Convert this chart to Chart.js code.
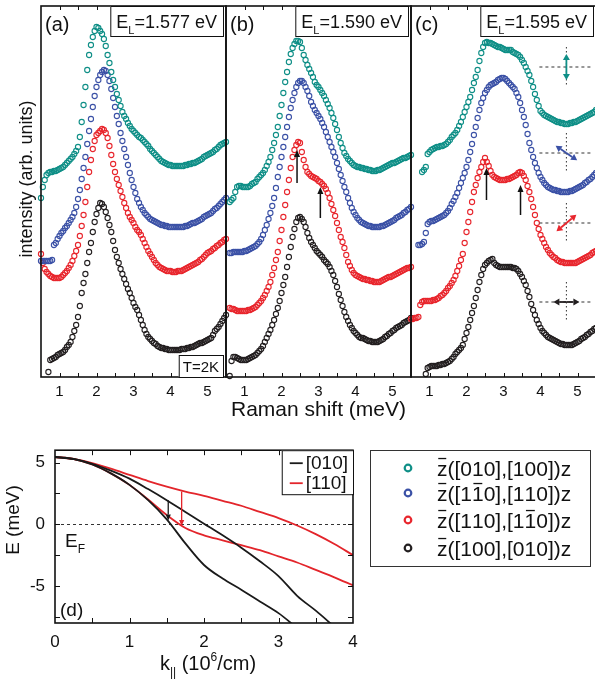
<!DOCTYPE html>
<html>
<head>
<meta charset="utf-8">
<title>Raman spectra and band dispersion</title>
<script src="https://cdn.jsdelivr.net/npm/chart.js@4.4.1/dist/chart.umd.min.js"></script>
<style>
  html, body { margin: 0; padding: 0; background: #fff; }
  body { position: relative; width: 595px; height: 681px; overflow: hidden; }
  canvas { position: absolute; }
</style>
</head>
<body>
<canvas id="panelA" width="230" height="425" style="left:0;top:0"></canvas>
<canvas id="panelB" width="210" height="425" style="left:206px;top:0"></canvas>
<canvas id="panelC" width="210" height="425" style="left:391px;top:0"></canvas>
<canvas id="panelD" width="595" height="251" style="left:0;top:430px"></canvas>
<script>
// Raman shift (meV), shared by all spectra
const ramanShift = [
    0.50, 0.55, 0.60, 0.65, 0.70, 0.75, 0.80, 0.85, 0.90, 0.95,
    1.00, 1.05, 1.10, 1.15, 1.20, 1.25, 1.30, 1.35, 1.40, 1.45,
    1.50, 1.55, 1.60, 1.65, 1.70, 1.75, 1.80, 1.85, 1.90, 1.95,
    2.00, 2.05, 2.10, 2.15, 2.20, 2.25, 2.30, 2.35, 2.40, 2.45,
    2.50, 2.55, 2.60, 2.65, 2.70, 2.75, 2.80, 2.85, 2.90, 2.95,
    3.00, 3.05, 3.10, 3.15, 3.20, 3.25, 3.30, 3.35, 3.40, 3.45,
    3.50, 3.55, 3.60, 3.65, 3.70, 3.75, 3.80, 3.85, 3.90, 3.95,
    4.00, 4.05, 4.10, 4.15, 4.20, 4.25, 4.30, 4.35, 4.40, 4.45,
    4.50, 4.55, 4.60, 4.65, 4.70, 4.75, 4.80, 4.85, 4.90, 4.95,
    5.00, 5.05, 5.10, 5.15, 5.20, 5.25, 5.30, 5.35, 5.40, 5.45,
    5.50];

// intensity (arb. units, spectra already offset) - panel (a) E_L = 1.577 eV
const tealA = [
    169, 180, 187, 192, 194, 195, 195, 196, 196, 197,
    198, 199, 200, 202, 204, 206, 208, 210, 213, 216,
    220, 230, 245, 262, 280, 297, 312, 322, 330, 336,
    340, 339, 336, 333, 328, 321, 312, 304, 295, 287,
    280, 273, 267, 261, 255, 251, 248, 244, 241, 238,
    236, 234, 232, 230, 229, 227, 225, 223, 221, 218,
    216, 214, 212, 210, 208, 206, 205, 204, 203, 202,
    202, 201, 201, 201, 201, 201, 201, 201, 202, 202,
    203, 203, 204, 204, 205, 206, 207, 208, 210, 211,
    212, 213, 214, 215, 217, 218, 220, 222, 223, 224,
    225];
const blueA = [
    106, 106, 106, 106, 106, 106, 107, 122, 124, 128,
    131, 134, 136, 139, 141, 144, 147, 150, 154, 160,
    168, 177, 188, 199, 210, 223, 236, 248, 260, 271,
    280, 287, 292, 295, 297, 296, 292, 286, 278, 269,
    260, 251, 243, 234, 226, 218, 210, 202, 194, 187,
    180, 174, 168, 164, 160, 157, 154, 152, 150, 148,
    147, 146, 145, 144, 143, 142, 142, 141, 141, 140,
    140, 140, 140, 140, 140, 140, 140, 140, 141, 141,
    142, 143, 144, 144, 145, 146, 147, 148, 150, 151,
    152, 153, 154, 156, 158, 159, 161, 163, 165, 167,
    169];
const redA = [
    113, 104, 98, 95, 93, 91, 90, 89, 89, 89,
    89, 90, 92, 94, 96, 99, 102, 106, 111, 116,
    122, 131, 141, 152, 165, 180, 195, 207, 218, 226,
    232, 234, 236, 238, 237, 234, 229, 221, 212, 203,
    195, 188, 182, 176, 170, 164, 159, 154, 150, 147,
    144, 140, 137, 135, 132, 128, 124, 120, 116, 113,
    110, 107, 104, 102, 100, 99, 98, 97, 96, 96,
    96, 95, 95, 95, 96, 96, 96, 97, 98, 99,
    100, 101, 102, 103, 104, 105, 107, 108, 110, 112,
    114, 115, 116, 118, 119, 121, 122, 124, 125, 127,
    128];
const blackA = [
    null, null, null, null, -5, 7, 8, 9, 10, 12,
    13, 14, 15, 17, 20, 22, 25, 30, 36, 42,
    50, 61, 74, 84, 93, 104, 115, 124, 135, 145,
    153, 159, 164, 163, 160, 155, 149, 142, 135, 126,
    117, 110, 104, 98, 93, 88, 83, 78, 74, 69,
    64, 60, 57, 52, 47, 42, 37, 33, 30, 28,
    26, 24, 23, 21, 20, 19, 19, 18, 18, 17,
    17, 17, 17, 17, 17, 17, 18, 18, 18, 19,
    19, 20, 20, 21, 22, 23, 24, 24, 25, 26,
    27, 28, 29, 32, 36, 38, 40, 43, 46, 49,
    52];

// panel (b) E_L = 1.590 eV
const tealB = [
    null, null, 165, 167, 169, 175, 180, 181, 181, 180,
    180, 180, 180, 181, 183, 184, 185, 188, 190, 192,
    194, 197, 201, 205, 210, 217, 224, 232, 240, 251,
    262, 274, 285, 295, 305, 313, 319, 323, 326, 326,
    325, 319, 312, 307, 302, 298, 294, 290, 285, 282,
    280, 277, 274, 271, 267, 263, 259, 254, 249, 243,
    237, 230, 224, 219, 214, 211, 208, 206, 204, 202,
    201, 200, 200, 199, 199, 198, 198, 197, 197, 196,
    196, 196, 197, 197, 198, 199, 200, 201, 202, 203,
    204, 204, 205, 206, 207, 208, 209, 209, 210, 211,
    212];
const blueB = [
    null, null, 114, 114, 115, 115, 115, 115, 115, 115,
    116, 116, 117, 118, 119, 120, 121, 123, 125, 128,
    132, 137, 142, 148, 154, 161, 169, 179, 190, 200,
    210, 220, 230, 240, 250, 259, 267, 274, 280, 284,
    286, 286, 284, 280, 276, 271, 265, 261, 257, 254,
    251, 248, 244, 240, 235, 230, 225, 220, 215, 210,
    204, 198, 192, 186, 180, 175, 169, 164, 159, 155,
    152, 149, 147, 145, 144, 143, 142, 141, 141, 140,
    140, 140, 140, 140, 141, 141, 142, 143, 144, 145,
    146, 147, 149, 150, 151, 152, 154, 155, 157, 158,
    160];
const redB = [
    null, null, 59, 58, 58, 57, 56, 56, 56, 56,
    56, 56, 57, 57, 58, 59, 60, 62, 64, 66,
    69, 72, 76, 80, 85, 92, 99, 107, 115, 126,
    137, 150, 162, 175, 187, 199, 210, 217, 222, 225,
    224, 215, 207, 200, 195, 193, 191, 190, 189, 188,
    186, 185, 183, 181, 178, 174, 169, 163, 157, 151,
    144, 137, 130, 125, 119, 112, 105, 101, 97, 94,
    92, 91, 90, 89, 88, 88, 87, 87, 86, 86,
    85, 85, 85, 85, 86, 87, 88, 89, 90, 90,
    91, 92, 93, 94, 95, 96, 97, 98, 99, 99,
    100];
const blackB = [
    null, null, -9, 6, 10, 10, 9, 8, 7, 7,
    7, 7, 8, 9, 10, 11, 12, 14, 16, 18,
    21, 25, 29, 33, 37, 42, 47, 53, 59, 66,
    74, 82, 90, 100, 110, 120, 130, 138, 145, 149,
    150, 148, 145, 140, 134, 129, 125, 122, 119, 116,
    114, 112, 110, 107, 105, 103, 100, 96, 92, 86,
    80, 73, 67, 61, 55, 50, 46, 42, 39, 36,
    34, 32, 30, 29, 29, 28, 27, 26, 26, 25,
    25, 25, 25, 26, 27, 28, 30, 31, 33, 34,
    36, 37, 39, 40, 41, 42, 44, 45, 46, 47,
    49];

// panel (c) E_L = 1.595 eV
const tealC = [
    null, null, null, null, null, null, 195, 197, 200, 213,
    215, 217, 218, 219, 220, 220, 221, 221, 222, 223,
    225, 227, 230, 232, 234, 237, 241, 245, 250, 255,
    260, 265, 270, 277, 284, 290, 297, 306, 314, 320,
    324, 325, 324, 324, 323, 322, 321, 320, 320, 319,
    318, 317, 317, 317, 317, 315, 314, 313, 312, 310,
    307, 304, 300, 296, 292, 286, 280, 273, 267, 261,
    256, 254, 252, 251, 250, 249, 248, 247, 246, 245,
    245, 244, 244, 243, 243, 243, 244, 244, 245, 245,
    246, 247, 248, 249, 250, 251, 252, 253, 254, 255,
    257];
const blueC = [
    null, null, null, null, 122, 122, 123, 125, 134, 143,
    145, 146, 146, 147, 148, 149, 150, 151, 152, 154,
    156, 159, 163, 166, 170, 174, 179, 184, 189, 194,
    200, 207, 215, 223, 232, 240, 249, 257, 264, 269,
    274, 277, 280, 282, 283, 284, 285, 287, 288, 289,
    289, 288, 286, 284, 282, 280, 278, 274, 270, 264,
    257, 250, 242, 233, 224, 217, 210, 204, 199, 194,
    190, 187, 184, 182, 180, 179, 178, 177, 177, 176,
    176, 175, 175, 175, 175, 175, 176, 176, 177, 178,
    179, 180, 181, 182, 184, 185, 187, 188, 190, 192,
    194];
const redC = [
    48, 48, 49, 49, 50, 62, 65, 66, 66, 66,
    66, 66, 67, 67, 68, 69, 71, 72, 74, 76,
    79, 81, 84, 87, 91, 96, 101, 107, 113, 124,
    135, 145, 155, 165, 175, 182, 189, 195, 200, 205,
    209, 205, 201, 196, 192, 190, 189, 188, 187, 187,
    187, 187, 188, 188, 189, 190, 191, 192, 194, 195,
    194, 191, 187, 181, 175, 168, 160, 152, 144, 138,
    132, 128, 124, 120, 117, 114, 112, 110, 109, 107,
    106, 105, 105, 104, 104, 104, 104, 104, 104, 104,
    105, 106, 107, 108, 109, 110, 111, 112, 114, 115,
    116];
const blackC = [
    null, null, null, null, null, null, null, null, -7, -1,
    0, 1, 1, 1, 1, 2, 2, 3, 3, 4,
    5, 6, 8, 10, 13, 15, 17, 19, 22, 28,
    34, 40, 47, 54, 61, 69, 77, 85, 92, 98,
    102, 104, 106, 107, 108, 104, 102, 101, 100, 100,
    100, 100, 100, 100, 100, 99, 99, 98, 96, 93,
    90, 86, 82, 76, 70, 63, 57, 52, 47, 43,
    39, 36, 34, 32, 30, 29, 28, 27, 26, 25,
    24, 23, 23, 22, 22, 22, 22, 22, 23, 24,
    25, 26, 28, 29, 30, 32, 33, 35, 36, 38,
    39];

const ramanTicks = [1, 2, 3, 4, 5];
const ramanMarks = [1, 1.5, 2, 2.5, 3, 3.5, 4, 4.5, 5];
const panelNames = ['(a)', '(b)', '(c)'];
const laserEnergies = ['1.577', '1.590', '1.595'];
const polarLabels = ['z\u0304([010],[100])z', 'z\u0304([11\u03040],[110])z',
    'z\u0304([110],[11\u03040])z', 'z\u0304([100],[010])z'];
const seriesColors = ['#0f8f87', '#3b51a6', '#e8262d', '#231f20'];

// peak markers (meV, intensity) for the red spectra in (b) and (c)
const arrowShiftB = [2.42, 3.05];
const arrowFromB = [184, 149];
const arrowToB = [217, 180];
const arrowShiftC = [2.54, 3.46];
const arrowFromC = [167, 152];
const arrowToC = [199, 182];

// polarisation sketches in (c)
const polarShift = 4.7;
const polarLevel = [300, 214, 144, 65];
const polarAngle = [90, -34, 40, 0];

// (d) band dispersion
const kPar = [0, 0.25, 0.5, 0.75, 1, 1.25, 1.5, 1.75, 2, 2.25, 2.5, 2.75, 3, 3.25, 3.5, 3.75, 4];
const band010Lower = [5.45, 5.27, 4.84, 4.12, 3.19, 1.95, 0.4, -1.55, -3.3, -4.4, -5.3, -6.25, -7.2, -8.4];
const band010Upper = [5.45, 5.3, 4.9, 4.35, 3.7, 2.85, 1.95, 1.0, 0.05, -0.9, -1.9, -3.0, -4.2, -5.8, -7.0, -8.3];
const band110Lower = [5.45, 5.27, 4.84, 4.12, 3.19, 2.0, 0.75, -0.3, -0.9, -1.3, -1.7, -2.1, -2.6, -3.1, -3.7, -4.3, -4.95];
const band110Upper = [5.45, 5.3, 4.95, 4.5, 4.0, 3.5, 3.05, 2.65, 2.3, 1.9, 1.5, 1.0, 0.5, -0.1, -0.8, -1.6, -2.5];
const bandLabels = ['[010]', '[110]'];
const bandColors = ['#1a1a1a', '#e3252b'];
const kTicks = [0, 1, 2, 3, 4];
const kMarks = [0.5, 1, 1.5, 2, 2.5, 3, 3.5];
const eTicks = [-5, 0, 5];
const eMarks = [-7.5, -5, -2.5, 0, 2.5, 5];
const transitionK = [1.52, 1.7];
const transitionFrom = [1.95, 2.65];
const transitionTo = [0.3, -0.15];

const FONT = '"Liberation Sans", Arial, Helvetica, sans-serif';
Chart.defaults.font.family = FONT;
Chart.defaults.color = '#111';

function font(size) { return size + 'px ' + FONT; }

function drawArrow(ctx, x1, y1, x2, y2, color, head, half, width) {
    const ang = Math.atan2(y2 - y1, x2 - x1);
    const bx = x2 - head * Math.cos(ang), by = y2 - head * Math.sin(ang);
    ctx.strokeStyle = color;
    ctx.fillStyle = color;
    ctx.lineWidth = width;
    ctx.beginPath();
    ctx.moveTo(x1, y1);
    ctx.lineTo(bx, by);
    ctx.stroke();
    ctx.beginPath();
    ctx.moveTo(x2, y2);
    ctx.lineTo(bx + half * Math.sin(ang), by - half * Math.cos(ang));
    ctx.lineTo(bx - half * Math.sin(ang), by + half * Math.cos(ang));
    ctx.closePath();
    ctx.fill();
}

// text with a bar over every character followed by U+0304
function barText(ctx, s, x, base, size) {
    let cx = x;
    for (let i = 0; i < s.length; i++) {
        const ch = s[i];
        if (ch === '\u0304') continue;
        const w = ctx.measureText(ch).width;
        ctx.fillText(ch, cx, base);
        if (s[i + 1] === '\u0304') {
            ctx.fillRect(cx + w * 0.12, base - size * 0.72 - 2.5, w * 0.76, 1.3);
        }
        cx += w;
    }
}

// box frame plus inward ticks on all four sides
function framePlugin(xMarks, yMarks, len) {
    return {
        id: 'frame',
        afterDraw(chart) {
            const {ctx, chartArea: a, scales} = chart;
            ctx.save();
            ctx.strokeStyle = '#111';
            ctx.lineWidth = 1;
            ctx.beginPath();
            xMarks.forEach(v => {
                const px = Math.round(scales.x.getPixelForValue(v)) + 0.5;
                ctx.moveTo(px, a.bottom); ctx.lineTo(px, a.bottom - len);
                ctx.moveTo(px, a.top); ctx.lineTo(px, a.top + len);
            });
            yMarks.forEach(v => {
                const py = Math.round(scales.y.getPixelForValue(v)) + 0.5;
                ctx.moveTo(a.left, py); ctx.lineTo(a.left + len, py);
                ctx.moveTo(a.right, py); ctx.lineTo(a.right - len, py);
            });
            ctx.stroke();
            ctx.lineWidth = 1.6;
            ctx.strokeRect(a.left, a.top, a.right - a.left, a.bottom - a.top);
            ctx.restore();
        }
    };
}

function laserBox(ctx, a, energy) {
    ctx.font = font(18);
    const wE = ctx.measureText('E').width;
    const rest = '=' + energy + ' eV';
    const wR = ctx.measureText(rest).width;
    ctx.font = font(11);
    const wL = ctx.measureText('L').width;
    const w = wE + wL + wR + 12, h = 30;
    const x0 = a.right - 3 - w, y0 = a.top;
    ctx.fillStyle = '#fff';
    ctx.fillRect(x0, y0, w, h);
    ctx.strokeStyle = '#111';
    ctx.lineWidth = 1;
    ctx.strokeRect(x0 + 0.5, y0 + 0.5, w, h);
    ctx.fillStyle = '#111';
    ctx.textAlign = 'left';
    ctx.textBaseline = 'alphabetic';
    ctx.font = font(18);
    ctx.fillText('E', x0 + 6, y0 + 22);
    ctx.font = font(11);
    ctx.fillText('L', x0 + 6 + wE, y0 + 28);
    ctx.font = font(18);
    ctx.fillText(rest, x0 + 6 + wE + wL, y0 + 22);
}

function decorPlugin(panel) {
    return {
        id: 'decor',
        afterDraw(chart) {
            const {ctx, chartArea: a, scales: {x, y}} = chart;
            ctx.save();
            ctx.fillStyle = '#111';
            ctx.font = font(20);
            ctx.textAlign = 'left';
            ctx.textBaseline = 'alphabetic';
            ctx.fillText(panelNames[panel], a.left + 4, a.top + 25);
            laserBox(ctx, a, laserEnergies[panel]);
            if (panel === 0) {
                // T=2K box
                ctx.font = font(15);
                const w = ctx.measureText('T=2K').width + 8;
                const x0 = a.right - 3 - w, y0 = a.bottom - 22;
                ctx.fillStyle = '#fff';
                ctx.fillRect(x0, y0, w, 22);
                ctx.strokeStyle = '#111';
                ctx.lineWidth = 1;
                ctx.strokeRect(x0 + 0.5, y0 + 0.5, w, 22);
                ctx.fillStyle = '#111';
                ctx.fillText('T=2K', x0 + 4, y0 + 17);
                // y axis title
                ctx.translate(27, 179);
                ctx.rotate(-Math.PI / 2);
                ctx.textAlign = 'center';
                ctx.textBaseline = 'middle';
                ctx.font = font(18);
                ctx.fillText('intensity (arb. units)', 0, 0);
            }
            if (panel === 1 || panel === 2) {
                const xs = panel === 1 ? arrowShiftB : arrowShiftC;
                const fr = panel === 1 ? arrowFromB : arrowFromC;
                const to = panel === 1 ? arrowToB : arrowToC;
                xs.forEach((v, i) => {
                    const px = x.getPixelForValue(v);
                    drawArrow(ctx, px, y.getPixelForValue(fr[i]), px, y.getPixelForValue(to[i]), '#111', 7, 3, 1.5);
                });
            }
            if (panel === 2) {
                polarLevel.forEach((v, i) => {
                    const cx = x.getPixelForValue(polarShift), cy = y.getPixelForValue(v);
                    ctx.strokeStyle = '#333';
                    ctx.lineWidth = 1;
                    ctx.setLineDash([3, 3]);
                    ctx.beginPath(); ctx.moveTo(cx - 27, cy); ctx.lineTo(cx + 25, cy); ctx.stroke();
                    ctx.setLineDash([1.5, 2.5]);
                    ctx.beginPath(); ctx.moveTo(cx, cy - 20); ctx.lineTo(cx, cy + 18); ctx.stroke();
                    ctx.setLineDash([]);
                    const t = polarAngle[i] * Math.PI / 180, L = 13;
                    const dx = Math.cos(t) * L, dy = -Math.sin(t) * L;
                    drawArrow(ctx, cx, cy, cx + dx, cy + dy, seriesColors[i], 6, 3.5, 1.8);
                    drawArrow(ctx, cx, cy, cx - dx, cy - dy, seriesColors[i], 6, 3.5, 1.8);
                });
            }
            ctx.restore();
        }
    };
}

function spectraPanel(id, panel, series, yWidth, padRight, xTitle) {
    const datasets = series.map((s, k) => ({
        label: polarLabels[k],
        data: ramanShift.map((v, i) => ({x: v, y: s[i]})).filter(p => p.y !== null),
        borderColor: seriesColors[k],
        backgroundColor: 'rgba(255,255,255,0)',
        pointRadius: 2.6,
        pointHoverRadius: 2.6,
        pointBorderWidth: 1.1,
        clip: false
    }));
    return new Chart(document.getElementById(id), {
        type: 'scatter',
        data: {datasets: datasets},
        options: {
            responsive: false,
            animation: false,
            events: [],
            layout: {padding: {top: 6, right: padRight, left: 0, bottom: 0}},
            plugins: {legend: {display: false}, tooltip: {enabled: false}},
            scales: {
                x: {
                    type: 'linear', min: 0.5, max: 5.5,
                    afterBuildTicks: s => { s.ticks = ramanTicks.map(v => ({value: v})); },
                    afterFit: s => { s.height = 48; },
                    grid: {display: false, drawTicks: false},
                    border: {display: false},
                    ticks: {font: {size: 15}, color: '#111', padding: 6, maxRotation: 0, autoSkip: false},
                    title: {display: !!xTitle, text: xTitle || '', font: {size: 21}, color: '#111', padding: {top: 0, bottom: 2}}
                },
                y: {
                    min: -10, max: 361,
                    afterFit: s => { s.width = yWidth; },
                    grid: {display: false, drawTicks: false},
                    border: {display: false},
                    ticks: {display: false}
                }
            }
        },
        plugins: [framePlugin(ramanMarks, [], 4), decorPlugin(panel)]
    });
}

spectraPanel('panelA', 0, [tealA, blueA, redA, blackA], 41, 4, null);
spectraPanel('panelB', 1, [tealB, blueB, redB, blackB], 20, 5, 'Raman shift (meV)');
spectraPanel('panelC', 2, [tealC, blueC, redC, blackC], 20, 5, null);

// ---- panel (d)
function bandSet(values, k) {
    return {
        label: bandLabels[k],
        data: values.map((v, i) => ({x: kPar[i], y: v})),
        borderColor: bandColors[k],
        borderWidth: 1.8,
        pointRadius: 0,
        fill: false,
        cubicInterpolationMode: 'monotone'
    };
}

const zeroLine = {
    id: 'zeroLine',
    beforeDatasetsDraw(chart) {
        const {ctx, chartArea: a, scales: {y}} = chart;
        const py = Math.round(y.getPixelForValue(0)) + 0.5;
        ctx.save();
        ctx.strokeStyle = '#333';
        ctx.lineWidth = 1;
        ctx.setLineDash([3, 3]);
        ctx.beginPath(); ctx.moveTo(a.left, py); ctx.lineTo(a.right, py); ctx.stroke();
        ctx.restore();
    }
};

const decorD = {
    id: 'decorD',
    afterDraw(chart) {
        const {ctx, chartArea: a, scales: {x, y}} = chart;
        ctx.save();
        transitionK.forEach((k, i) => {
            const px = x.getPixelForValue(k);
            drawArrow(ctx, px, y.getPixelForValue(transitionFrom[i]), px, y.getPixelForValue(transitionTo[i]), bandColors[i], 6, 2.6, 1.3);
        });
        ctx.fillStyle = '#111';
        ctx.textAlign = 'left';
        ctx.textBaseline = 'alphabetic';
        // E_F
        ctx.font = font(19);
        ctx.fillText('E', a.left + 10, 117);
        const wE = ctx.measureText('E').width;
        ctx.font = font(12);
        ctx.fillText('F', a.left + 10 + wE, 123);
        ctx.font = font(19);
        ctx.fillText('(d)', a.left + 5, 186);

        // legend inside (d)
        ctx.font = font(19);
        const tw = Math.max(...bandLabels.map(s => ctx.measureText(s).width));
        const bw = 8 + 13 + 3 + tw + 5, bh = 44;
        const bx = a.right - bw, by = a.top;
        ctx.fillStyle = '#fff';
        ctx.fillRect(bx, by, bw, bh);
        ctx.strokeStyle = '#111';
        ctx.lineWidth = 1;
        ctx.strokeRect(bx + 0.5, by + 0.5, bw, bh);
        bandLabels.forEach((s, i) => {
            const ry = by + 13 + i * 20;
            ctx.strokeStyle = bandColors[i];
            ctx.lineWidth = 1.8;
            ctx.beginPath(); ctx.moveTo(bx + 8, ry); ctx.lineTo(bx + 21, ry); ctx.stroke();
            ctx.fillStyle = '#111';
            ctx.textBaseline = 'middle';
            ctx.fillText(s, bx + 24, ry + 1);
        });

        // x title: k|| (10^6/cm)
        ctx.textBaseline = 'alphabetic';
        const parts = [['k', 20, 0], ['||', 12, 6], [' (10', 20, 0], ['6', 12, -9], ['/cm)', 20, 0]];
        let total = 0;
        parts.forEach(p => { ctx.font = font(p[1]); total += ctx.measureText(p[0]).width; });
        let cx = 208 - total / 2;
        parts.forEach(p => {
            ctx.font = font(p[1]);
            ctx.fillText(p[0], cx, 240 + p[2]);
            cx += ctx.measureText(p[0]).width;
        });

        // y title
        ctx.save();
        ctx.translate(14, 90);
        ctx.rotate(-Math.PI / 2);
        ctx.textAlign = 'center';
        ctx.textBaseline = 'middle';
        ctx.font = font(19);
        ctx.fillText('E (meV)', 0, 0);
        ctx.restore();

        // polarisation legend on the right
        const lx = 370, ly = 20, lw = 220, lh = 116;
        ctx.strokeStyle = '#333';
        ctx.lineWidth = 1;
        ctx.strokeRect(lx + 0.5, ly + 0.5, lw, lh);
        const rows = [38, 63, 90, 118];
        ctx.font = font(21);
        ctx.textAlign = 'left';
        ctx.textBaseline = 'alphabetic';
        polarLabels.forEach((s, i) => {
            ctx.strokeStyle = seriesColors[i];
            ctx.lineWidth = 2.2;
            ctx.beginPath();
            ctx.arc(408, rows[i], 3.3, 0, Math.PI * 2);
            ctx.stroke();
            ctx.fillStyle = '#111';
            barText(ctx, s, 437, rows[i] + 7.5, 21);
        });
        ctx.restore();
    }
};

new Chart(document.getElementById('panelD'), {
    type: 'line',
    data: {
        datasets: [
            bandSet(band010Lower, 0),
            bandSet(band010Upper, 0),
            bandSet(band110Lower, 1),
            bandSet(band110Upper, 1)
        ]
    },
    options: {
        responsive: false,
        animation: false,
        events: [],
        layout: {padding: {top: 19, right: 242, left: 0, bottom: 0}},
        plugins: {legend: {display: false}, tooltip: {enabled: false}},
        scales: {
            x: {
                type: 'linear', min: 0, max: 4,
                afterBuildTicks: s => { s.ticks = kTicks.map(v => ({value: v})); },
                afterFit: s => { s.height = 58; },
                grid: {display: false, drawTicks: false},
                border: {display: false},
                ticks: {font: {size: 17}, color: '#111', padding: 9, maxRotation: 0, autoSkip: false}
            },
            y: {
                min: -8, max: 6,
                afterBuildTicks: s => { s.ticks = eTicks.map(v => ({value: v})); },
                afterFit: s => { s.width = 55; },
                grid: {display: false, drawTicks: false},
                border: {display: false},
                ticks: {font: {size: 17}, color: '#111', padding: 10, autoSkip: false}
            }
        }
    },
    plugins: [zeroLine, framePlugin(kMarks, eMarks, 5), decorD]
});
</script>
</body>
</html>
